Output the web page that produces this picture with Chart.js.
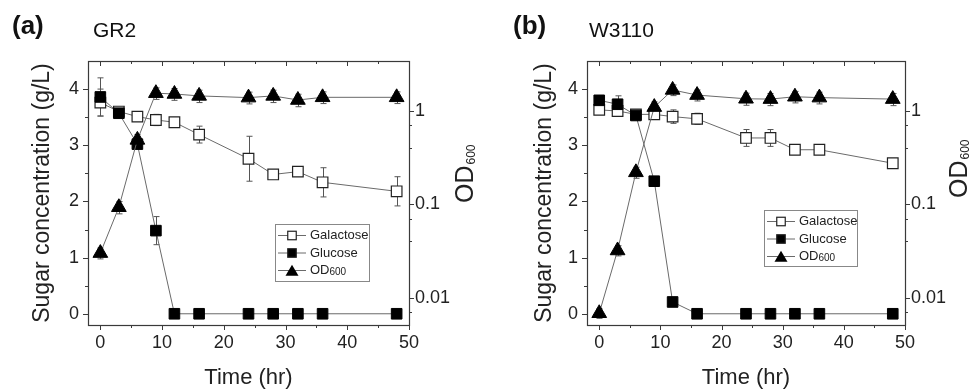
<!DOCTYPE html>
<html>
<head>
<meta charset="utf-8">
<script src="https://cdn.jsdelivr.net/npm/chart.js@4.4.1/dist/chart.umd.min.js"></script>
<style>
    html, body { margin: 0; padding: 0; background: #fff; }
    body { width: 974px; height: 389px; position: relative; overflow: hidden; font-family: Arial, "Liberation Sans", sans-serif; }
    .panel { position: absolute; top: 0; width: 487px; height: 389px; }
    .tag { position: absolute; top: 12px; font-weight: bold; font-size: 26px; line-height: 1; color: #111; }
    .strain { position: absolute; top: 19px; font-size: 21px; line-height: 1; color: #111; }
</style>
</head>
<body>
<div class="panel" style="left:0"><canvas id="chartA" width="487" height="389"></canvas></div>
<div class="panel" style="left:487px"><canvas id="chartB" width="487" height="389"></canvas></div>
<div class="tag" style="left:12px">(a)</div>
<div class="strain" style="left:93px">GR2</div>
<div class="tag" style="left:513px">(b)</div>
<div class="strain" style="left:589px">W3110</div>

<script>
// Datos
const timePoints = [0, 3, 6, 9, 12, 16, 24, 28, 32, 36, 48];

const galactoseA = [3.76, 3.60, 3.51, 3.45, 3.41, 3.19, 2.76, 2.48, 2.53, 2.34, 2.18];
const galactoseErrA = [0.24, 0.05, 0.05, 0.10, 0.06, 0.15, 0.40, 0.06, 0.05, 0.26, 0.26];
const glucoseA = [3.86, 3.57, 3.02, 1.48, 0, 0, 0, 0, 0, 0, 0];
const glucoseErrA = [0.34, 0.05, 0.05, 0.25, 0, 0, 0, 0, 0, 0, 0];
const odA = [0.030, 0.093, 0.49, 1.55, 1.52, 1.45, 1.39, 1.45, 1.31, 1.40, 1.40];
const odErrA = [0.004, 0.014, 0.07, 0.22, 0.22, 0.22, 0.20, 0.22, 0.20, 0.20, 0.20];

const galactoseB = [3.63, 3.61, 3.55, 3.55, 3.51, 3.47, 3.13, 3.13, 2.92, 2.92, 2.68];
const galactoseErrB = [0.08, 0.08, 0.05, 0.05, 0.12, 0.10, 0.15, 0.15, 0.05, 0.05, 0.05];
const glucoseB = [3.80, 3.73, 3.53, 2.36, 0.21, 0, 0, 0, 0, 0, 0];
const glucoseErrB = [0.05, 0.15, 0.05, 0.05, 0.05, 0, 0, 0, 0, 0, 0];
const odB = [0.0068, 0.032, 0.22, 1.10, 1.68, 1.48, 1.35, 1.34, 1.42, 1.39, 1.34];
const odErrB = [0.0008, 0.004, 0.03, 0.15, 0.22, 0.20, 0.20, 0.20, 0.20, 0.20, 0.20];

const seriesLabels = ['Galactose', 'Glucose', 'OD600'];
const timeTicks = [0, 10, 20, 30, 40, 50];
const timeMinorTicks = [5, 15, 25, 35, 45];
const sugarTicks = [0, 1, 2, 3, 4];
const sugarMinorTicks = [0.5, 1.5, 2.5, 3.5];
const odTicks = [0.01, 0.1, 1];
const odMinorTicks = [0.007, 0.04, 0.07, 0.4, 0.7];

const FONT = 'Arial, "Liberation Sans", sans-serif';
const INK = '#222';
const LINE = '#6a6a6a';

function pairs(values) {
    return timePoints.map((t, i) => ({ x: t, y: values[i] }));
}

function drawMarker(ctx, style, x, y, size) {
    ctx.save();
    ctx.lineWidth = 1.2;
    ctx.strokeStyle = INK;
    if (style === 'open' || style === 'filled') {
        ctx.fillStyle = style === 'open' ? '#fff' : '#000';
        ctx.fillRect(x - size / 2, y - size / 2, size, size);
        ctx.strokeRect(x - size / 2, y - size / 2, size, size);
    } else {
        ctx.fillStyle = '#000';
        ctx.beginPath();
        ctx.moveTo(x, y - size * 0.45);
        ctx.lineTo(x + size / 2, y + size * 0.4);
        ctx.lineTo(x - size / 2, y + size * 0.4);
        ctx.closePath();
        ctx.fill();
    }
    ctx.restore();
}

const panelDecor = {
    id: 'panelDecor',
    beforeDatasetsDraw(chart, args, opts) {
        // barras de error
        const ctx = chart.ctx;
        ctx.save();
        ctx.strokeStyle = '#555';
        ctx.lineWidth = 1;
        chart.data.datasets.forEach((ds, i) => {
            const errs = opts.errors[i];
            const yScale = chart.scales[ds.yAxisID];
            ds.data.forEach((p, j) => {
                const e = errs[j];
                if (!e) return;
                const px = Math.round(chart.scales.x.getPixelForValue(p.x)) + 0.5;
                const top = yScale.getPixelForValue(p.y + e);
                const bot = yScale.getPixelForValue(p.y - e);
                ctx.beginPath();
                ctx.moveTo(px, top); ctx.lineTo(px, bot);
                ctx.moveTo(px - 3, top); ctx.lineTo(px + 3, top);
                ctx.moveTo(px - 3, bot); ctx.lineTo(px + 3, bot);
                ctx.stroke();
            });
        });
        ctx.restore();
    },
    afterDraw(chart, args, opts) {
        const ctx = chart.ctx;
        const { left, right, top, bottom } = chart.chartArea;
        const { x, y, y2 } = chart.scales;
        ctx.save();
        ctx.strokeStyle = '#3a3a3a';
        ctx.lineWidth = 1.2;
        ctx.strokeRect(left + 0.5, top + 0.5, right - left, bottom - top);

        ctx.lineWidth = 1;
        ctx.beginPath();
        const hTick = (v, len) => {
            const px = Math.round(x.getPixelForValue(v)) + 0.5;
            ctx.moveTo(px, bottom); ctx.lineTo(px, bottom + len);
            ctx.moveTo(px, top); ctx.lineTo(px, top + len);
        };
        timeTicks.forEach(v => hTick(v, 5));
        timeMinorTicks.forEach(v => hTick(v, 3));
        const lTick = (v, len) => {
            const py = Math.round(y.getPixelForValue(v)) + 0.5;
            ctx.moveTo(left, py); ctx.lineTo(left - len, py);
        };
        sugarTicks.forEach(v => lTick(v, 5));
        sugarMinorTicks.forEach(v => lTick(v, 3));
        const rTick = (v, len) => {
            const py = Math.round(y2.getPixelForValue(v)) + 0.5;
            ctx.moveTo(right, py); ctx.lineTo(right + len, py);
        };
        odTicks.forEach(v => rTick(v, 5));
        odMinorTicks.forEach(v => rTick(v, 3));
        ctx.stroke();

        // título del eje derecho con subíndice
        ctx.fillStyle = INK;
        ctx.translate(opts.odTitle.x, opts.odTitle.y);
        ctx.rotate(-Math.PI / 2);
        ctx.textBaseline = 'alphabetic';
        ctx.font = '25px ' + FONT;
        ctx.fillText('OD', 0, 0);
        const w = ctx.measureText('OD').width;
        ctx.font = '12px ' + FONT;
        ctx.fillText('600', w + 1, 2);
        ctx.restore();

        // leyenda
        const lb = opts.legendBox;
        ctx.save();
        ctx.strokeStyle = '#888';
        ctx.lineWidth = 1;
        ctx.strokeRect(lb.x + 0.5, lb.y + 0.5, lb.w, lb.h);
        const styles = ['open', 'filled', 'tri'];
        seriesLabels.forEach((label, i) => {
            const cy = lb.y + 11.5 + i * 17.5;
            ctx.strokeStyle = LINE;
            ctx.beginPath();
            ctx.moveTo(lb.x + 3, cy); ctx.lineTo(lb.x + 31, cy);
            ctx.stroke();
            drawMarker(ctx, styles[i], lb.x + 17, cy, i === 2 ? 13 : 8.5);
            ctx.fillStyle = INK;
            ctx.textBaseline = 'middle';
            if (label === 'OD600') {
                ctx.font = '13px ' + FONT;
                ctx.fillText('OD', lb.x + 35, cy);
                const ow = ctx.measureText('OD').width;
                ctx.font = '10px ' + FONT;
                ctx.fillText('600', lb.x + 35 + ow, cy + 1.5);
            } else {
                ctx.font = '13px ' + FONT;
                ctx.fillText(label, lb.x + 35, cy);
            }
        });
        ctx.restore();
    }
};

function buildChart(canvasId, gal, galErr, glu, gluErr, od, odErr, layout) {
    const ctx = document.getElementById(canvasId).getContext('2d');
    const tickFont = { family: FONT, size: 18 };
    return new Chart(ctx, {
        type: 'line',
        data: {
            datasets: [
                {
                    label: seriesLabels[0], data: pairs(gal), yAxisID: 'y', order: 3,
                    borderColor: LINE, borderWidth: 1, pointStyle: 'rect', pointRadius: 7.5,
                    pointBackgroundColor: '#fff', pointBorderColor: INK, pointBorderWidth: 1.2
                },
                {
                    label: seriesLabels[1], data: pairs(glu), yAxisID: 'y', order: 2,
                    borderColor: LINE, borderWidth: 1, pointStyle: 'rect', pointRadius: 7.5,
                    pointBackgroundColor: '#000', pointBorderColor: '#000', pointBorderWidth: 1
                },
                {
                    label: seriesLabels[2], data: pairs(od), yAxisID: 'y2', order: 1,
                    borderColor: LINE, borderWidth: 1, pointStyle: 'triangle', pointRadius: 8.5,
                    pointBackgroundColor: '#000', pointBorderColor: '#000', pointBorderWidth: 1
                }
            ]
        },
        options: {
            responsive: false,
            animation: false,
            devicePixelRatio: 1,
            layout: { padding: { top: 61, left: 0, right: 0, bottom: 0 } },
            plugins: {
                legend: { display: false },
                tooltip: { enabled: false },
                panelDecor: {
                    errors: [galErr, gluErr, odErr],
                    legendBox: layout.legendBox,
                    odTitle: layout.odTitle
                }
            },
            scales: {
                x: {
                    type: 'linear', min: -2, max: 50,
                    afterBuildTicks: s => { s.ticks = timeTicks.map(v => ({ value: v })); },
                    afterFit: s => { s.height = 64; },
                    grid: { display: false, drawTicks: false },
                    border: { display: false },
                    ticks: { font: tickFont, color: INK, padding: 7, maxRotation: 0, autoSkip: false },
                    title: {
                        display: true, text: 'Time (hr)', color: INK,
                        font: { family: FONT, size: 22, lineHeight: 1 },
                        padding: { top: 0, bottom: 0.5 }
                    }
                },
                y: {
                    type: 'linear', position: 'left', min: -0.2, max: 4.5,
                    afterBuildTicks: s => { s.ticks = sugarTicks.map(v => ({ value: v })); },
                    afterFit: s => { s.width = layout.leftWidth; },
                    grid: { display: false, drawTicks: false },
                    border: { display: false },
                    ticks: { font: tickFont, color: INK, padding: 9 },
                    title: {
                        display: true, text: 'Sugar concentration (g/L)', color: INK,
                        font: { family: FONT, size: 23, lineHeight: 1 },
                        padding: { top: layout.leftTitlePad, bottom: 0 }
                    }
                },
                y2: {
                    type: 'logarithmic', position: 'right', min: 0.00509, max: 3.43,
                    afterBuildTicks: s => { s.ticks = odTicks.map(v => ({ value: v })); },
                    afterFit: s => { s.width = layout.rightWidth; },
                    grid: { display: false, drawTicks: false },
                    border: { display: false },
                    ticks: { font: tickFont, color: INK, padding: 6, callback: v => String(v) }
                }
            }
        },
        plugins: [panelDecor]
    });
}

buildChart('chartA', galactoseA, galactoseErrA, glucoseA, glucoseErrA, odA, odErrA, {
    leftWidth: 88, rightWidth: 78, leftTitlePad: 31,
    legendBox: { x: 275, y: 224, w: 94, h: 57 },
    odTitle: { x: 473, y: 203 }
});

buildChart('chartB', galactoseB, galactoseErrB, glucoseB, glucoseErrB, odB, odErrB, {
    leftWidth: 100, rightWidth: 69, leftTitlePad: 46,
    legendBox: { x: 277, y: 210, w: 93, h: 56 },
    odTitle: { x: 480, y: 198 }
});
</script>
</body>
</html>
